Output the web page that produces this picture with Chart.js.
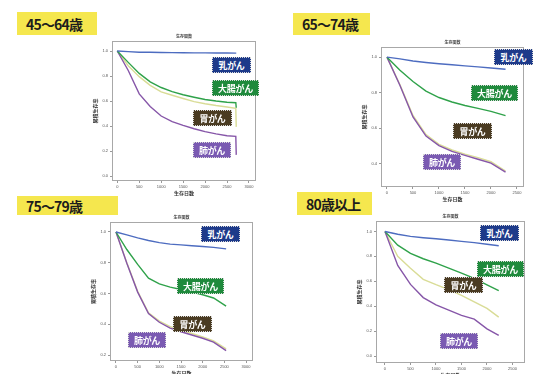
<!DOCTYPE html>
<html lang="ja">
<head>
<meta charset="utf-8">
<script src="https://cdn.jsdelivr.net/npm/chart.js@4.4.1/dist/chart.umd.min.js"></script>
<style>
    body { margin: 0; background: #fff; }
    #page { position: relative; width: 541px; height: 374px; overflow: hidden; background: #fff; font-family: "Noto Sans CJK JP", "Noto Sans", sans-serif; }
    .head { position: absolute; background: #f5e74e; color: #1c1c1c; font-weight: 700; font-size: 14px; line-height: 1; display: flex; align-items: center; padding-left: 9px; box-sizing: border-box; letter-spacing: -0.8px; }
    .box { position: absolute; }
    .tag { position: absolute; height: 16px; color: #fff; font-weight: 700; font-size: 9px; letter-spacing: -0.3px; display: flex; align-items: center; justify-content: center; box-sizing: border-box; border: 1px dotted #d8d8d8; }
</style>
</head>
<body>
<div id="page"></div>
<script>
        // ages / labels
        const ageLabels = ['45～64歳', '65～74歳', '75～79歳', '80歳以上'];
        const cancerLabels = ['乳がん', '大腸がん', '胃がん', '肺がん'];
        const yTitle = '累積生存率';
        const xTitle = '生存日数';
        const plotTitle = '生存関数';

        // tick labels
        const xTicksLong = [0, 500, 1000, 1500, 2000, 2500, 3000];
        const xTicksShort = [0, 500, 1000, 1500, 2000, 2500];
        const yTicksFull = [0.0, 0.2, 0.4, 0.6, 0.8, 1.0];
        const yTicks65 = [0.4, 0.6, 0.8, 1.0];
        const yTicks75 = [0.2, 0.4, 0.6, 0.8, 1.0];

        // 45-64
        const days45 = [0, 250, 500, 750, 1000, 1250, 1500, 1750, 2000, 2250, 2500, 2700, 2710];
        const breast45 = [1.0, 0.995, 0.99, 0.99, 0.988, 0.987, 0.986, 0.985, 0.985, 0.984, 0.984, 0.983, 0.983];
        const colon45 = [1.0, 0.909, 0.821, 0.753, 0.708, 0.675, 0.650, 0.630, 0.612, 0.600, 0.590, 0.586, 0.546];
        const stomach45 = [1.0, 0.882, 0.795, 0.725, 0.673, 0.646, 0.620, 0.595, 0.578, 0.564, 0.552, 0.541, 0.393];
        const lung45 = [1.0, 0.844, 0.657, 0.556, 0.480, 0.435, 0.405, 0.378, 0.355, 0.337, 0.322, 0.317, 0.169];

        // 65-74
        const days65 = [0, 250, 500, 750, 1000, 1250, 1500, 1750, 2000, 2280];
        const breast65 = [1.0, 0.99, 0.978, 0.970, 0.963, 0.957, 0.951, 0.945, 0.939, 0.932];
        const colon65 = [1.0, 0.926, 0.863, 0.809, 0.773, 0.748, 0.728, 0.712, 0.695, 0.671];
        const stomach65 = [1.0, 0.845, 0.672, 0.565, 0.51, 0.478, 0.455, 0.435, 0.412, 0.36];
        const lung65 = [1.0, 0.841, 0.664, 0.556, 0.503, 0.470, 0.448, 0.426, 0.404, 0.354];

        // 75-79
        const days75 = [0, 250, 500, 750, 1000, 1250, 1500, 1750, 2000, 2250, 2540];
        const breast75 = [1.0, 0.981, 0.962, 0.945, 0.931, 0.921, 0.916, 0.911, 0.906, 0.900, 0.890];
        const colon75 = [1.0, 0.886, 0.789, 0.700, 0.662, 0.641, 0.626, 0.610, 0.592, 0.571, 0.518];
        const stomach75 = [1.0, 0.80, 0.615, 0.475, 0.42, 0.385, 0.36, 0.34, 0.318, 0.292, 0.24];
        const lung75 = [1.0, 0.797, 0.609, 0.469, 0.413, 0.375, 0.351, 0.330, 0.309, 0.284, 0.228];

        // 80+
        const days80 = [0, 250, 500, 750, 1000, 1250, 1500, 1750, 2000, 2230];
        const breast80 = [1.0, 0.978, 0.961, 0.950, 0.941, 0.932, 0.920, 0.910, 0.897, 0.885];
        const colon80 = [1.0, 0.89, 0.824, 0.781, 0.746, 0.706, 0.665, 0.623, 0.572, 0.525];
        const stomach80 = [1.0, 0.80, 0.705, 0.616, 0.573, 0.533, 0.487, 0.435, 0.382, 0.312];
        const lung80 = [1.0, 0.727, 0.575, 0.469, 0.410, 0.368, 0.326, 0.296, 0.218, 0.165];

        const lineColors = ['#4d6cc0', '#2fa24a', '#d9dc96', '#8656a8'];
        const tagColors = ['#1d3a8a', '#1f8a3c', '#4a3b22', '#7a5ab2'];
        const tagWidths = [39, 47, 39, 38];

        // frame = [left, top, right, bottom] of the plot box
        const panels = [
            { days: days45, series: [breast45, colon45, stomach45, lung45], frame: [112, 41, 256, 181],
              x: [-120, 3160], y: [-0.04, 1.08], xTicks: xTicksLong, yTicks: yTicksFull, head: [17, 12, 80, 23],
              tags: [[212, 57], [212, 80], [193, 110], [193, 142]] },
            { days: days65, series: [breast65, colon65, stomach65, lung65], frame: [381, 47, 524, 187],
              x: [-115, 2635], y: [0.27, 1.057], xTicks: xTicksShort, yTicks: yTicks65, head: [293, 13, 77, 22],
              tags: [[494, 49], [471, 85], [453, 123], [423, 154]] },
            { days: days75, series: [breast75, colon75, stomach75, lung75], frame: [110, 222, 253, 361],
              x: [-138, 3160], y: [0.161, 1.065], xTicks: xTicksLong, yTicks: yTicks75, head: [17, 196, 101, 19],
              tags: [[201, 226], [177, 278], [173, 316], [128, 332]] },
            { days: days80, series: [breast80, colon80, stomach80, lung80], frame: [376, 221, 525, 363],
              x: [-176, 2745], y: [-0.056, 1.084], xTicks: xTicksShort, yTicks: yTicksFull, head: [297, 192, 75, 23],
              tags: [[480, 225], [477, 261], [444, 277], [440, 333]] }
        ];

        const framePlugin = {
            id: 'frame',
            afterDraw(chart) {
                const a = chart.chartArea;
                const ctx = chart.ctx;
                ctx.save();
                ctx.strokeStyle = '#a8a8a8';
                ctx.lineWidth = 1;
                ctx.strokeRect(a.left + 0.5, a.top + 0.5, a.right - a.left - 1, a.bottom - a.top - 1);
                ctx.fillStyle = '#444';
                ctx.font = 'bold 4px "Noto Sans CJK JP"';
                ctx.textAlign = 'center';
                ctx.fillText(plotTitle, (a.left + a.right) / 2, a.top - 3);
                ctx.restore();
            }
        };

        const page = document.getElementById('page');
        const padLeft = 24, padTop = 10, padRight = 4, padBottom = 15;

        panels.forEach((p, idx) => {
            const [L, T, R, B] = p.frame;

            const head = document.createElement('div');
            head.className = 'head';
            head.style.left = p.head[0] + 'px';
            head.style.top = p.head[1] + 'px';
            head.style.width = p.head[2] + 'px';
            head.style.height = p.head[3] + 'px';
            head.textContent = ageLabels[idx];
            page.appendChild(head);

            const box = document.createElement('div');
            box.className = 'box';
            box.style.left = (L - padLeft) + 'px';
            box.style.top = (T - padTop) + 'px';
            box.style.width = (R - L + padLeft + padRight) + 'px';
            box.style.height = (B - T + padTop + padBottom) + 'px';
            const canvas = document.createElement('canvas');
            box.appendChild(canvas);
            page.appendChild(box);

            // draw stomach first, lung on top of it
            const order = [0, 1, 3, 2];
            new Chart(canvas, {
                type: 'line',
                data: {
                    datasets: order.map(k => ({
                        label: cancerLabels[k],
                        data: p.days.map((d, i) => ({ x: d, y: p.series[k][i] })),
                        borderColor: lineColors[k],
                        borderWidth: 1.4,
                        pointRadius: 0,
                        tension: 0,
                        fill: false
                    }))
                },
                options: {
                    responsive: true,
                    maintainAspectRatio: false,
                    animation: false,
                    layout: { padding: { left: 0, top: padTop, right: padRight, bottom: 0 } },
                    plugins: { legend: { display: false }, tooltip: { enabled: false } },
                    scales: {
                        x: {
                            type: 'linear',
                            min: p.x[0],
                            max: p.x[1],
                            afterBuildTicks: s => { s.ticks = p.xTicks.map(v => ({ value: v })); },
                            afterFit: s => { s.height = padBottom; },
                            grid: { drawOnChartArea: false, tickLength: 2, color: '#999' },
                            border: { display: false },
                            ticks: { autoSkip: false, maxRotation: 0, padding: 1, color: '#555',
                                     font: { size: 4 }, callback: v => String(v) },
                            title: { display: true, text: xTitle, color: '#333', padding: 0,
                                     font: { size: 5, weight: 'bold', family: '"Noto Sans CJK JP"' } }
                        },
                        y: {
                            min: p.y[0],
                            max: p.y[1],
                            afterBuildTicks: s => { s.ticks = p.yTicks.map(v => ({ value: v })); },
                            afterFit: s => { s.width = padLeft; },
                            grid: { drawOnChartArea: false, tickLength: 2, color: '#999' },
                            border: { display: false },
                            ticks: { padding: 2, color: '#555', font: { size: 4 }, callback: v => v.toFixed(1) },
                            title: { display: true, text: yTitle, color: '#333', padding: { top: 4, bottom: 0 },
                                     font: { size: 5, weight: 'bold', family: '"Noto Sans CJK JP"' } }
                        }
                    }
                },
                plugins: [framePlugin]
            });

            p.tags.forEach((t, k) => {
                const tag = document.createElement('div');
                tag.className = 'tag';
                tag.style.left = t[0] + 'px';
                tag.style.top = t[1] + 'px';
                tag.style.width = tagWidths[k] + 'px';
                tag.style.background = tagColors[k];
                tag.textContent = cancerLabels[k];
                page.appendChild(tag);
            });
        });
</script>
</body>
</html>
